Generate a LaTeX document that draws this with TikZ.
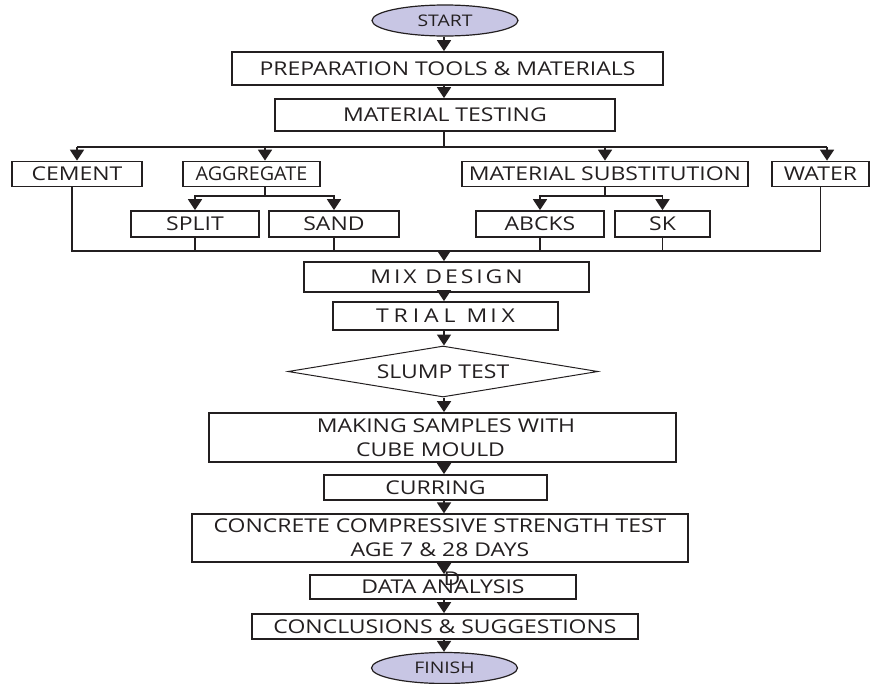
\documentclass[tikz,border=0pt]{standalone}
\usepackage{fontspec}
\setmainfont{Open Sans}[FakeStretch=1.21]
\newfontfamily\aggfont{Open Sans}[FakeStretch=1.04]
\usepackage{tikz}
\usetikzlibrary{arrows.meta,shapes.geometric}
\definecolor{ovalfill}{RGB}{200,198,228}
\definecolor{ink}{RGB}{35,31,32}

\begin{document}
\begin{tikzpicture}[x=1pt, y=-1pt,
      blk/.style={draw=ink, line width=1.7pt, inner sep=0pt, text=ink, align=center,
        font=\fontsize{19}{24}\selectfont},
      oval/.style={ellipse, draw=ink, line width=1.2pt, fill=ovalfill, minimum width=146pt,
        minimum height=31pt, inner sep=0pt, text=ink, font=\fontsize{16}{18}\selectfont},
      ln/.style={draw=ink, line width=1.7pt},
      arr/.style={ln, -{Triangle[width=14pt, length=11pt]}}]
    \useasboundingbox (0,0) rectangle (870,683);
    % main column
    \coordinate (sp) at (444,0);
    \node[oval] (start) at (445,20.5) {START};
    \node[blk, minimum width=431pt, minimum height=33pt] (prep) at (447.5,68.5) {PREPARATION TOOLS \& MATERIALS};
    \node[blk, minimum width=340pt, minimum height=32pt] (mattest) at (445,115) {MATERIAL TESTING};
    % materials row
    \coordinate (tl) at (77,147);
    \coordinate (tr) at (827,147);
    \coordinate (ag) at (265,147);
    \node[blk, minimum width=130pt, minimum height=25pt] (cement) at (77,174) {CEMENT};
    \node[blk, minimum width=137pt, minimum height=25pt] (agg) at (251.5,174) {\aggfont AGGREGATE};
    \node[blk, minimum width=286pt, minimum height=25pt] (matsub) at (605,174) {MATERIAL SUBSTITUTION};
    \node[blk, minimum width=97pt, minimum height=25pt] (water) at (820.5,174) {WATER};
    \node[blk, minimum width=128pt, minimum height=26pt] (split) at (195,224) {SPLIT};
    \node[blk, minimum width=130pt, minimum height=26pt] (sand) at (334,224) {SAND};
    \node[blk, minimum width=128pt, minimum height=26pt] (abcks) at (540,224) {ABCKS};
    \node[blk, minimum width=95pt, minimum height=26pt] (sk) at (662.5,224) {SK};
    \draw[ln] (mattest.south -| sp) -- (sp |- tl);
    \draw[ln] (tl) -- (tr);
    \draw[arr] (tl) -- (cement.north);
    \draw[arr] (ag) -- (ag |- agg.north);
    \draw[arr] (matsub.north |- tl) -- (matsub.north);
    \draw[arr] (tr) -- (tr |- water.north);
    \coordinate (ab) at (265,196);
    \draw[ln] (ag |- agg.south) -- (ab);
    \draw[arr] (ab) -| (split.north);
    \draw[arr] (ab) -| (sand.north);
    \coordinate (mb) at (matsub.south |- ab);
    \draw[ln] (matsub.south) -- (mb);
    \draw[arr] (mb) -| (abcks.north);
    \draw[arr] (mb) -| (sk.north);
    % collect everything into the mix design
    \coordinate (cl) at (72,251);
    \draw[ln] (cl |- cement.south) -- (cl) -- (water.south |- cl) -- (water.south);
    \foreach \n in {split,sand,abcks,sk}
      \draw[ln] (\n.south) -- (\n.south |- cl);
    \node[blk, minimum width=285pt, minimum height=30pt] (mix) at (446.5,277)
      {\addfontfeatures{LetterSpace=15}M\kern3pt IX D\kern3pt ESIG\kern3pt N};
    \node[blk, minimum width=225pt, minimum height=28pt] (trial) at (445.5,316)
      {\addfontfeatures{LetterSpace=26}TRIAL M\kern3pt IX};
    \node[blk, line width=1pt, diamond, shape aspect=6, minimum width=310pt, minimum height=51pt] (slump) at (443,371.5) {SLUMP TEST};
    \node[blk, minimum width=467pt, minimum height=49pt] (making) at (442.5,437.5)
      {\hspace*{7pt}MAKING SAMPLES WITH\\CUBE MOULD\hspace*{24pt}};
    \node[blk, minimum width=223pt, minimum height=25pt] (curring) at (435.5,487.5) {CURRING};
    \node[blk, line width=1.2pt, minimum width=496pt, minimum height=48pt] (concrete) at (440,538)
      {CONCRETE COMPRESSIVE STRENGTH TEST\\AGE 7 \& 28 DAYS};
    \node[blk, minimum width=266pt, minimum height=24pt] (data) at (443,587) {DATA ANALYSIS};
    \node[blk, minimum width=386pt, minimum height=25pt] (concl) at (445,626.5) {CONCLUSIONS \& SUGGESTIONS};
    \node[oval] (finish) at (444.5,668) {FINISH};
    \draw[arr] (sp |- cl) -- (mix.north -| sp);
    \foreach \a/\b in {start/prep, prep/mattest, mix/trial, trial/slump, slump/making,
        making/curring, curring/concrete, concrete/data, data/concl, concl/finish}
      \draw[arr] (\a.south -| sp) -- (\b.north -| sp);
    \node[text=ink, font=\fontsize{19}{24}\selectfont] (stray) at (452,579) {D};
  \end{tikzpicture}
\end{document}
